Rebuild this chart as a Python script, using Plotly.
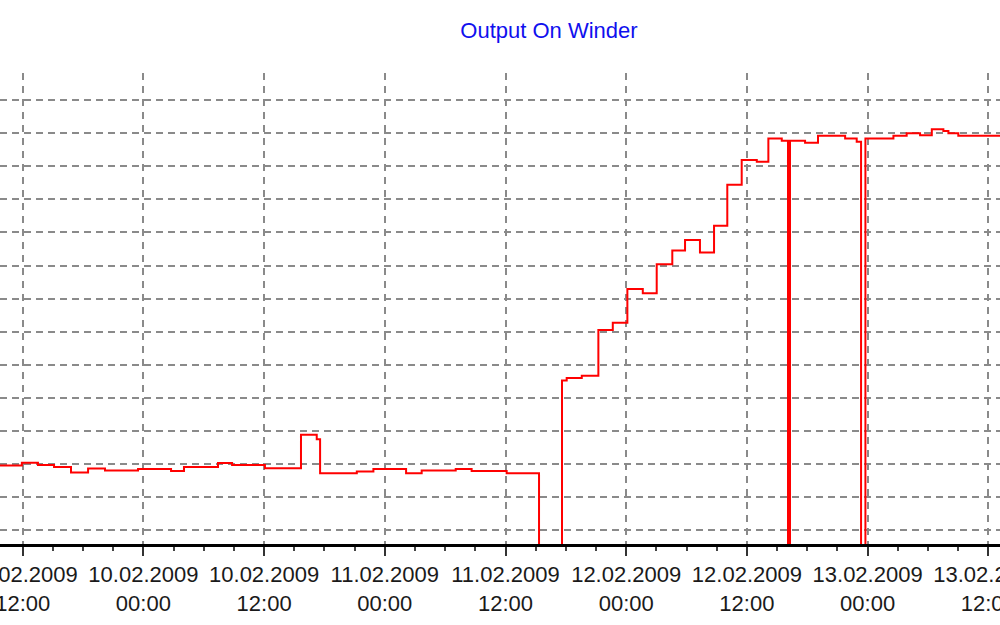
import plotly.graph_objects as go

# Step series: timestamp at which each new value begins (value held until next timestamp)
times = [
    "2009-02-09 09:00", "2009-02-09 11:55", "2009-02-09 13:31", "2009-02-09 15:07",
    "2009-02-09 16:48", "2009-02-09 18:30", "2009-02-09 20:11", "2009-02-09 23:28",
    "2009-02-10 02:45", "2009-02-10 04:02", "2009-02-10 07:25", "2009-02-10 08:49",
    "2009-02-10 12:05", "2009-02-10 15:40", "2009-02-10 17:14", "2009-02-10 17:34",
    "2009-02-10 21:13", "2009-02-10 22:52", "2009-02-11 02:07", "2009-02-11 03:40",
    "2009-02-11 07:03", "2009-02-11 08:38", "2009-02-11 12:07", "2009-02-11 15:20",
    "2009-02-11 17:37", "2009-02-11 18:05", "2009-02-11 19:35", "2009-02-11 21:14",
    "2009-02-11 22:40", "2009-02-12 00:07", "2009-02-12 01:39", "2009-02-12 03:02",
    "2009-02-12 04:35", "2009-02-12 05:51", "2009-02-12 07:20", "2009-02-12 08:44",
    "2009-02-12 10:03", "2009-02-12 11:29", "2009-02-12 12:59", "2009-02-12 14:08",
    "2009-02-12 15:28", "2009-02-12 16:05", "2009-02-12 16:17", "2009-02-12 17:47",
    "2009-02-12 19:04", "2009-02-12 21:46", "2009-02-12 22:55", "2009-02-12 23:21",
    "2009-02-12 23:47", "2009-02-13 02:34", "2009-02-13 03:53", "2009-02-13 05:13",
    "2009-02-13 06:23", "2009-02-13 07:32", "2009-02-13 08:02", "2009-02-13 09:01",
    "2009-02-13 14:00",
]
# outages (machine stopped) drop below the bottom of the visible range
output = [
    23.7, 24.6, 23.9, 23.3,
    21.6, 22.8, 22.2, 22.7,
    22.1, 23.3, 24.5, 23.9,
    22.9, 33.0, 31.7, 21.4,
    21.9, 22.7, 21.4, 22.2,
    22.7, 22.1, 21.4, -3.0,
    49.4, 50.2, 50.9, 64.7,
    66.9, 77.1, 75.8, 84.6,
    88.7, 91.9, 88.1, 96.2,
    108.6, 116.1, 115.6, 122.6,
    121.9, -3.0, 121.9, 121.3,
    123.4, 122.6, 121.6, -3.0,
    122.6, 123.4, 124.2, 123.6,
    125.4, 124.9, 124.2, 123.4,
    123.4,
]

title_text = "Output On Winder"
x_range = ["2009-02-09 09:44:35", "2009-02-13 13:09:47"]
y_range = [0, 142.4]

fig = go.Figure()
fig.add_trace(go.Scatter(
    x=times, y=output, mode="lines",
    line=dict(color="#ff0000", width=2, shape="hv"),
    showlegend=False, hoverinfo="skip",
))

fig.update_layout(
    width=1000, height=625,
    margin=dict(l=0, r=0, t=73, b=81, autoexpand=False),
    paper_bgcolor="white", plot_bgcolor="white",
    title=dict(text=title_text, x=0.549, xanchor="center", xref="paper",
               y=1 - 30 / 625, yref="container", yanchor="middle",
               font=dict(family="Liberation Sans, Arial, sans-serif", size=22, color="#1010ee")),
    showlegend=False,
)

fig.update_xaxes(
    type="date", range=x_range,
    tick0="2009-02-09 12:00", dtick=12 * 3600 * 1000,
    tickformat="%d.%m.%Y<br>%H:%M",
    ticks="outside", ticklen=9, tickwidth=2, tickcolor="#333333",
    minor=dict(dtick=3 * 3600 * 1000, ticks="outside", ticklen=4, tickwidth=2,
               tickcolor="#444444", showgrid=False),
    showgrid=True, gridcolor="#8a8a8a", gridwidth=1.5, griddash="7px,6px",
    showline=True, linecolor="#000000", linewidth=3,
    zeroline=False,
    tickfont=dict(family="Liberation Sans, Arial, sans-serif", size=22, color="#1a1a1a"),
    ticklabelstandoff=0,
    ticklabeloverflow="allow",
    automargin=False,
    fixedrange=True,
)
fig.update_yaxes(
    range=y_range, tick0=4.2, dtick=10,
    showgrid=True, gridcolor="#8a8a8a", gridwidth=1.5, griddash="7px,5px",
    showticklabels=False, ticks="", showline=False, zeroline=False,
    automargin=False,
    fixedrange=True,
)

fig.write_html(
    "out.html",
    config={"displayModeBar": False},
    post_script="document.body.style.margin='0';document.body.style.overflow='hidden';",
)
